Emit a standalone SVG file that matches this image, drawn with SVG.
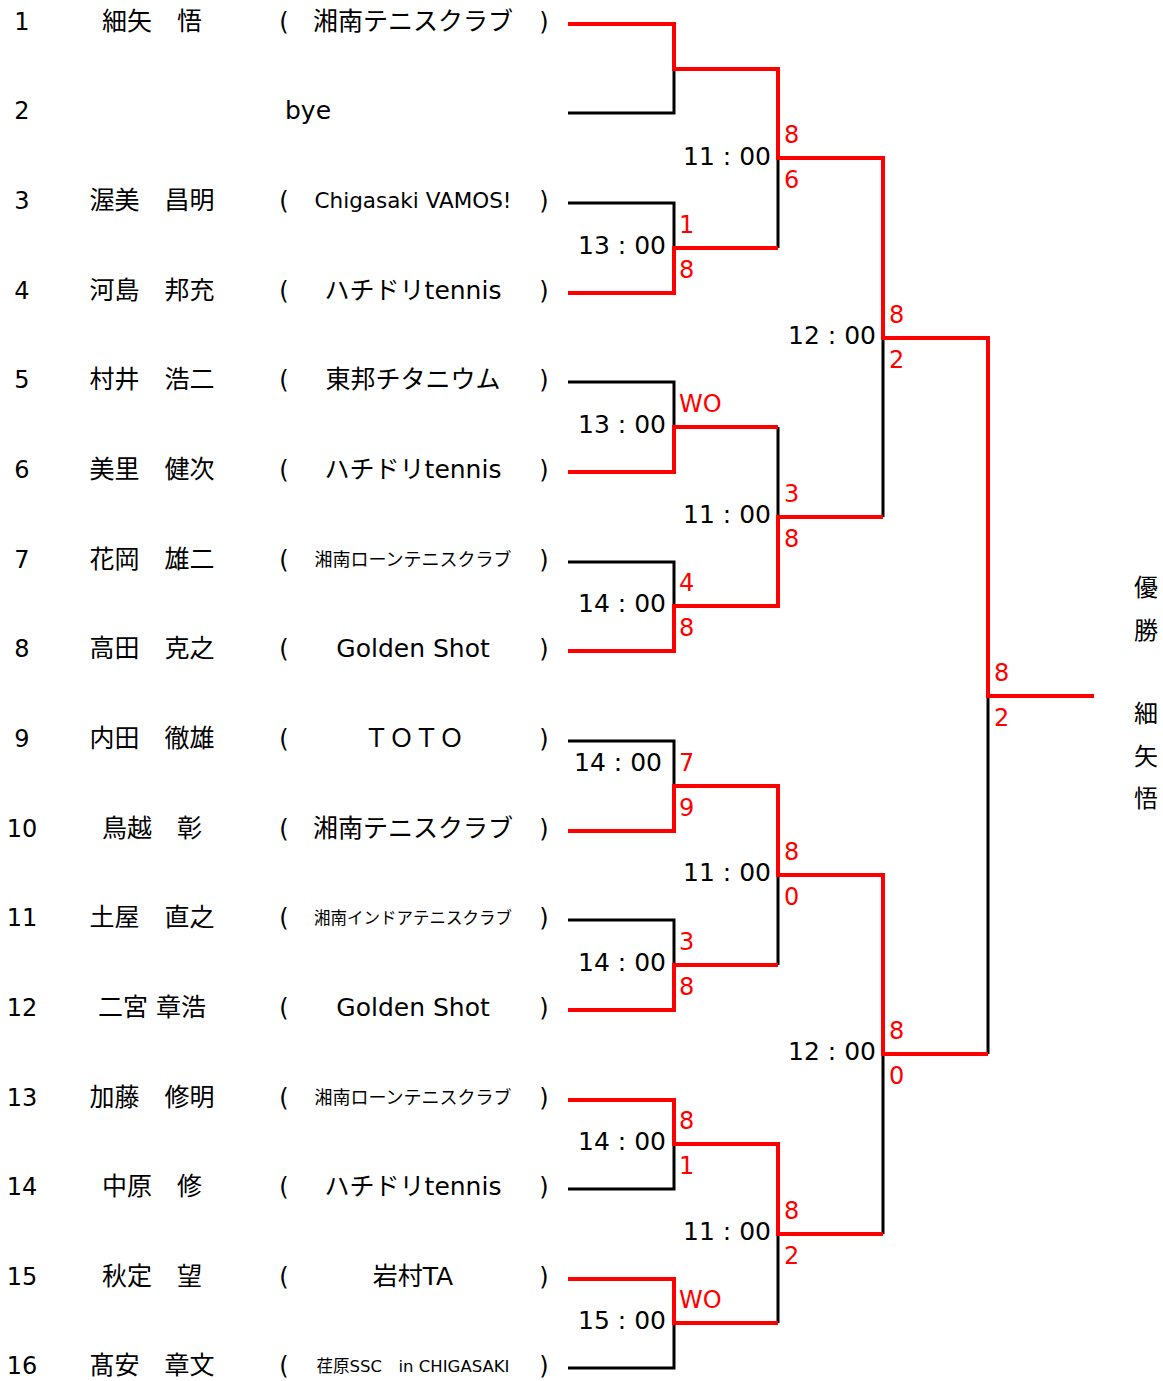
<svg xmlns="http://www.w3.org/2000/svg" width="1163" height="1381" viewBox="0 0 1163 1381">
<style>
text{font-family:"DejaVu Sans","Noto Sans CJK JP",sans-serif;fill:#000}
.num{font-size:24px;text-anchor:middle}
.nm{font-size:25px;text-anchor:middle}
.cl{font-size:25px;text-anchor:middle}
.cls{font-size:18px;text-anchor:middle}
.clx{font-size:16.5px;text-anchor:middle}
.par{font-size:24px;text-anchor:middle}
.tm{font-size:25px;text-anchor:end}
.sc{font-size:24px;fill:#ff0000}
.win{font-size:24px;text-anchor:middle}
.bk{fill:none;stroke:#000;stroke-width:3}
.rd{fill:none;stroke:#ff0000;stroke-width:4;stroke-linejoin:miter}
</style>
<rect width="1163" height="1381" fill="#fff"/>
<g id="connectors">
<path class="bk" d="M568,113H674V69M568,203H674V248M568,382H674V427M568,562H674V606M568,741H674V786M568,920H674V965M568,1189H674V1144M568,1368H674V1323"/>
<path class="bk" d="M778,248V158M778,427V517M778,965V875M778,1323V1234M883,517V338M883,1234V1054M988,1054V696"/>
<path class="rd" d="M568,24H674V69H778V158H883V338H988V696H1094"/>
<path class="rd" d="M568,293H674V248H778"/>
<path class="rd" d="M568,472H674V427H778"/>
<path class="rd" d="M568,651H674V606H778V517H883"/>
<path class="rd" d="M568,831H674V786H778V875H883V1054H988"/>
<path class="rd" d="M568,1010H674V965H778"/>
<path class="rd" d="M568,1100H674V1144H778V1234H883"/>
<path class="rd" d="M568,1279H674V1323H778"/>
</g>
<g id="p1"><text class="num" x="22" y="30">1</text><text class="nm" x="152" y="30">細矢　悟</text><text class="par" x="284" y="30">(</text><text class="cl" x="413" y="30">湘南テニスクラブ</text><text class="par" x="544" y="30">)</text></g>
<g id="p2"><text class="num" x="22" y="119">2</text><text class="cl" x="308" y="119">bye</text></g>
<g id="p3"><text class="num" x="22" y="209">3</text><text class="nm" x="152" y="209">渥美　昌明</text><text class="par" x="284" y="209">(</text><text class="cl" x="413" y="208" style="font-size:21.5px">Chigasaki VAMOS!</text><text class="par" x="544" y="209">)</text></g>
<g id="p4"><text class="num" x="22" y="299">4</text><text class="nm" x="152" y="299">河島　邦充</text><text class="par" x="284" y="299">(</text><text class="cl" x="413" y="299">ハチドリtennis</text><text class="par" x="544" y="299">)</text></g>
<g id="p5"><text class="num" x="22" y="388">5</text><text class="nm" x="152" y="388">村井　浩二</text><text class="par" x="284" y="388">(</text><text class="cl" x="413" y="388">東邦チタニウム</text><text class="par" x="544" y="388">)</text></g>
<g id="p6"><text class="num" x="22" y="478">6</text><text class="nm" x="152" y="478">美里　健次</text><text class="par" x="284" y="478">(</text><text class="cl" x="413" y="478">ハチドリtennis</text><text class="par" x="544" y="478">)</text></g>
<g id="p7"><text class="num" x="22" y="568">7</text><text class="nm" x="152" y="568">花岡　雄二</text><text class="par" x="284" y="568">(</text><text class="cls" x="413" y="566">湘南ローンテニスクラブ</text><text class="par" x="544" y="568">)</text></g>
<g id="p8"><text class="num" x="22" y="657">8</text><text class="nm" x="152" y="657">高田　克之</text><text class="par" x="284" y="657">(</text><text class="cl" x="413" y="657">Golden Shot</text><text class="par" x="544" y="657">)</text></g>
<g id="p9"><text class="num" x="22" y="747">9</text><text class="nm" x="152" y="747">内田　徹雄</text><text class="par" x="284" y="747">(</text><text class="cl" x="414" y="747">ＴＯＴＯ</text><text class="par" x="544" y="747">)</text></g>
<g id="p10"><text class="num" x="22" y="837">10</text><text class="nm" x="152" y="837">鳥越　彰</text><text class="par" x="284" y="837">(</text><text class="cl" x="413" y="837">湘南テニスクラブ</text><text class="par" x="544" y="837">)</text></g>
<g id="p11"><text class="num" x="22" y="926">11</text><text class="nm" x="152" y="926">土屋　直之</text><text class="par" x="284" y="926">(</text><text class="clx" x="413" y="924">湘南インドアテニスクラブ</text><text class="par" x="544" y="926">)</text></g>
<g id="p12"><text class="num" x="22" y="1016">12</text><text class="nm" x="152" y="1016">二宮 章浩</text><text class="par" x="284" y="1016">(</text><text class="cl" x="413" y="1016">Golden Shot</text><text class="par" x="544" y="1016">)</text></g>
<g id="p13"><text class="num" x="22" y="1106">13</text><text class="nm" x="152" y="1106">加藤　修明</text><text class="par" x="284" y="1106">(</text><text class="cls" x="413" y="1104">湘南ローンテニスクラブ</text><text class="par" x="544" y="1106">)</text></g>
<g id="p14"><text class="num" x="22" y="1195">14</text><text class="nm" x="152" y="1195">中原　修</text><text class="par" x="284" y="1195">(</text><text class="cl" x="413" y="1195">ハチドリtennis</text><text class="par" x="544" y="1195">)</text></g>
<g id="p15"><text class="num" x="22" y="1285">15</text><text class="nm" x="152" y="1285">秋定　望</text><text class="par" x="284" y="1285">(</text><text class="cl" x="413" y="1285">岩村TA</text><text class="par" x="544" y="1285">)</text></g>
<g id="p16"><text class="num" x="22" y="1374">16</text><text class="nm" x="152" y="1374">髙安　章文</text><text class="par" x="284" y="1374">(</text><text class="clx" x="413" y="1372">荏原SSC　in CHIGASAKI</text><text class="par" x="544" y="1374">)</text></g>
<g id="times">
<text class="tm" x="666" y="254">13 : 00</text>
<text class="tm" x="666" y="433">13 : 00</text>
<text class="tm" x="666" y="612">14 : 00</text>
<text class="tm" x="662" y="771">14 : 00</text>
<text class="tm" x="666" y="971">14 : 00</text>
<text class="tm" x="666" y="1150">14 : 00</text>
<text class="tm" x="666" y="1329">15 : 00</text>
<text class="tm" x="771" y="165">11 : 00</text>
<text class="tm" x="771" y="523">11 : 00</text>
<text class="tm" x="771" y="881">11 : 00</text>
<text class="tm" x="771" y="1240">11 : 00</text>
<text class="tm" x="876" y="344">12 : 00</text>
<text class="tm" x="876" y="1060">12 : 00</text>
</g>
<g id="scores">
<text class="sc" x="679" y="233">1</text><text class="sc" x="679" y="278">8</text>
<text class="sc" x="679" y="412">WO</text>
<text class="sc" x="679" y="591">4</text><text class="sc" x="679" y="636">8</text>
<text class="sc" x="679" y="771">7</text><text class="sc" x="679" y="816">9</text>
<text class="sc" x="679" y="950">3</text><text class="sc" x="679" y="995">8</text>
<text class="sc" x="679" y="1129">8</text><text class="sc" x="679" y="1174">1</text>
<text class="sc" x="679" y="1308">WO</text>
<text class="sc" x="784" y="143">8</text><text class="sc" x="784" y="188">6</text>
<text class="sc" x="784" y="502">3</text><text class="sc" x="784" y="547">8</text>
<text class="sc" x="784" y="860">8</text><text class="sc" x="784" y="905">0</text>
<text class="sc" x="784" y="1219">8</text><text class="sc" x="784" y="1264">2</text>
<text class="sc" x="889" y="323">8</text><text class="sc" x="889" y="368">2</text>
<text class="sc" x="889" y="1039">8</text><text class="sc" x="889" y="1084">0</text>
<text class="sc" x="994" y="681">8</text><text class="sc" x="994" y="726">2</text>
</g>
<g id="champion">
<text class="win" x="1146" y="596">優</text>
<text class="win" x="1146" y="639">勝</text>
<text class="win" x="1146" y="722">細</text>
<text class="win" x="1146" y="765">矢</text>
<text class="win" x="1146" y="807">悟</text>
</g>
</svg>
